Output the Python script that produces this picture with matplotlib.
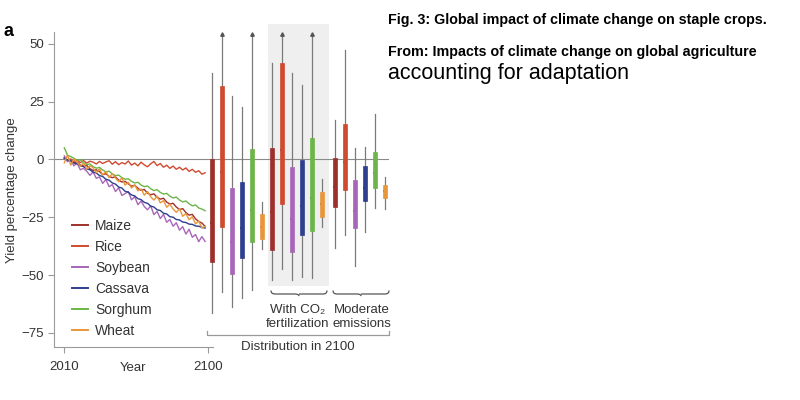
import numpy as np
import matplotlib.pyplot as plt
from matplotlib.path import Path
from matplotlib.patches import PathPatch, Rectangle

plt.rcParams['font.family'] = ['Liberation Sans', 'DejaVu Sans']

# ---- data ----
crops = ["Maize", "Rice", "Soybean", "Cassava", "Sorghum", "Wheat"]
colors = ["#9e302c", "#cf4a2f", "#a866b8", "#2d3f8e", "#6cb548", "#e8963a"]

years = list(range(2010, 2099, 2))

maize = [0.5, -0.2, -0.6, -1.4, -1.1, -2.5, -2.9, -2.6, -4.0, -4.8, -4.5, -5.3, -6.6, -6.2, -7.4,
         -7.9, -7.6, -9.0, -9.8, -9.5, -10.6, -11.6, -11.2, -12.5, -13.4, -13.0, -14.6, -15.3,
         -14.9, -16.4, -17.2, -16.8, -18.5, -19.3, -19.0, -20.6, -21.7, -21.3, -23.0, -24.1,
         -23.8, -25.7, -26.9, -27.5, -29.0]
rice = [0.8, -0.4, 0.2, -0.9, -0.2, -1.4, -0.5, -1.6, -0.8, -1.2, -2.0, -0.9, -1.8, -1.1, -0.6,
        -2.1, -1.0, -2.3, -1.4, -2.0, -0.7, -2.5, -1.6, -2.8, -1.2, -2.4, -3.2, -1.9, -0.9, -2.7,
        -1.8, -3.4, -2.5, -3.9, -2.9, -4.3, -3.4, -4.6, -3.7, -5.2, -4.3, -5.6, -4.9, -6.4, -5.8]
soybean = [1.5, -1.0, -0.4, -2.8, -1.6, -4.5, -3.9, -5.1, -6.9, -5.4, -8.2, -7.6, -10.4, -8.7,
           -11.8, -10.9, -13.9, -12.3, -15.6, -14.8, -13.9, -17.5, -16.1, -19.6, -18.0, -20.4,
           -21.8, -20.1, -23.9, -22.5, -25.6, -23.8, -27.2, -26.0, -28.9, -27.4, -30.6, -29.1,
           -32.3, -30.2, -33.7, -32.5, -35.6, -33.4, -35.5]
cassava = [0.5, -0.3, -0.6, -1.6, -1.9, -2.8, -3.1, -4.1, -4.5, -5.5, -5.9, -7.0, -7.4, -8.6,
           -9.0, -10.2, -10.7, -12.0, -12.4, -13.8, -14.2, -15.4, -15.8, -17.0, -17.4, -18.6,
           -19.0, -20.2, -20.6, -21.8, -22.1, -23.3, -23.6, -24.8, -25.0, -26.0, -26.2, -27.1,
           -27.3, -28.0, -28.1, -28.8, -28.9, -29.4, -29.7]
sorghum = [5.0, 1.8, 1.2, 0.5, -0.4, -0.2, -1.5, -2.2, -2.0, -3.1, -3.8, -3.5, -4.6, -5.4, -5.1,
           -6.3, -7.0, -6.8, -7.9, -8.6, -8.4, -9.5, -10.2, -9.9, -11.1, -11.8, -11.5, -12.7,
           -13.5, -13.1, -14.3, -15.0, -14.7, -15.9, -16.7, -16.3, -17.6, -18.4, -18.0, -19.2,
           -20.1, -19.7, -21.0, -21.5, -22.2]
wheat = [-1.5, 2.0, -2.5, 0.2, -1.2, -3.0, -1.6, -4.2, -2.8, -3.6, -5.8, -4.1, -6.7, -5.3, -7.9,
         -6.2, -8.1, -9.6, -8.0, -11.1, -9.9, -12.4, -11.0, -13.6, -12.8, -15.5, -13.9, -16.2,
         -17.6, -15.9, -18.8, -17.8, -20.7, -19.4, -21.5, -22.9, -21.3, -24.6, -23.4, -26.1,
         -24.8, -27.9, -26.6, -29.7, -28.9]
series = [maize, rice, soybean, cassava, sorghum, wheat]

# distribution in 2100: [whislo, q1, med, q3, whishi] per crop
dist_base = [[-66.6, -44.3, -27.7, 0.0, 37.2],
             [-57.3, -29.1, -5.6, 31.7, 54.0],
             [-64.0, -49.6, -35.6, -12.5, 27.4],
             [-59.9, -42.6, -29.8, -9.9, 22.5],
             [-56.5, -35.9, -21.9, 4.3, 54.0],
             [-38.7, -34.5, -29.1, -23.7, -18.3]]
dist_co2 = [[-52.2, -39.2, -22.8, 5.0, 41.8],
            [-47.6, -19.5, 4.0, 41.5, 54.0],
            [-52.2, -40.0, -26.0, -3.2, 37.2],
            [-50.8, -32.7, -20.2, -0.3, 32.1],
            [-51.5, -31.0, -16.9, 9.4, 54.0],
            [-29.1, -24.8, -19.5, -14.0, -8.7]]
dist_moderate = [[-38.5, -20.8, -11.8, 0.7, 17.0],
                 [-32.7, -13.3, -1.0, 15.1, 47.3],
                 [-46.2, -29.6, -22.4, -9.0, 4.8],
                 [-31.3, -17.9, -12.3, -2.9, 5.4],
                 [-21.2, -12.5, -5.8, 3.3, 19.5],
                 [-21.6, -16.9, -13.7, -11.1, -7.5]]
# whiskers that run off the top of the panel (drawn with an arrow head)
clipped = [[False, True, False, False, True, False],
           [False, True, False, False, True, False],
           [False, False, False, False, False, False]]

# ---- figure ----
W, H = 800, 400
fig = plt.figure(figsize=(8, 4), dpi=100)

def px2year(px):
    return 2010 + (px - 64.3) / 1.6

ax_l, ax_r, ax_t, ax_b = 54.3, 389, 31.7, 346.7
ax = fig.add_axes([ax_l / W, 1 - ax_b / H, (ax_r - ax_l) / W, (ax_b - ax_t) / H])
ax.set_xlim(px2year(ax_l), px2year(ax_r))
ax.set_ylim(-81, 55.2)

# shaded CO2 panel (behind everything in the axes)
ax.add_patch(Rectangle((268.3 / W, 1 - 286 / H), 61 / W, 262 / H,
                       transform=fig.transFigure, facecolor="#efefef",
                       edgecolor="none", zorder=0, clip_on=False))

ax.axhline(0, color="#8a8a8a", lw=0.8, zorder=1)

for name, vals, c in zip(crops, series, colors):
    ax.plot(years, vals, color=c, lw=1.0, label=name, zorder=3)

groups = [dist_base, dist_co2, dist_moderate]
group_start_px = [211.7, 272, 335]
for g, (dist, start) in enumerate(zip(groups, group_start_px)):
    stats = []
    pos = []
    for i, d in enumerate(dist):
        stats.append(dict(whislo=d[0], q1=d[1], med=d[2], q3=d[3], whishi=d[4], fliers=[]))
        pos.append(px2year(start + 10 * i))
    bp = ax.bxp(stats, positions=pos, widths=2.4, showcaps=False, patch_artist=True,
                showfliers=False, manage_ticks=False,
                whiskerprops=dict(color="#7a7a7a", lw=0.9),
                medianprops=dict(color="#222222", lw=1.2),
                boxprops=dict(lw=0.5))
    for b, c in zip(bp["boxes"], colors):
        b.set_facecolor(c)
        b.set_edgecolor(c)
        b.set_zorder(3)
    for i, d in enumerate(dist):
        if clipped[g][i]:
            ax.plot(pos[i], d[4], marker="^", ms=2.5, color="#555555", clip_on=False, zorder=4)

# axes styling
for s in ["top", "right"]:
    ax.spines[s].set_visible(False)
ax.spines["left"].set_color("#9a9a9a")
ax.spines["bottom"].set_color("#9a9a9a")
ax.spines["bottom"].set_bounds(px2year(ax_l), px2year(213))
ax.set_yticks([50, 25, 0, -25, -50, -75])
ax.set_xticks([2010, 2100])
ax.tick_params(colors="#9a9a9a", labelcolor="#333333", labelsize=9.5, length=4, width=0.8)
ax.tick_params(axis="x", pad=6)
fig.text(12 / W, 1 - 190 / H, "Yield percentage change", rotation=90, ha="center",
         va="center", fontsize=9.5, color="#333333")
fig.text(133 / W, 1 - 368 / H, "Year", ha="center", va="center", fontsize=9.5, color="#333333")

leg = ax.legend(loc="upper left", bbox_to_anchor=(72 / W, 1 - 219 / H),
                bbox_transform=fig.transFigure, frameon=False, fontsize=10,
                handlelength=1.15, handletextpad=0.5, labelspacing=0.5,
                borderpad=0, borderaxespad=0)
for t in leg.get_texts():
    t.set_color("#333333")
for h in leg.get_lines():
    h.set_linewidth(1.4)

# brackets and braces
def brace(x0, x1, y, h):
    xm = (x0 + x1) / 2
    verts = [(x0, y - h), (x0, y), (x0 + 4, y), (xm - 4, y), (xm, y),
             (xm, y + h * 0.6),
             (xm, y), (xm + 4, y), (x1 - 4, y), (x1, y), (x1, y - h)]
    codes = [Path.MOVETO, Path.CURVE3, Path.CURVE3, Path.LINETO, Path.CURVE3, Path.CURVE3,
             Path.MOVETO, Path.CURVE3, Path.LINETO, Path.CURVE3, Path.CURVE3]
    v = [(vx / W, 1 - vy / H) for vx, vy in verts]
    fig.patches.append(PathPatch(Path(v, codes), transform=fig.transFigure, fill=False,
                                 edgecolor="#555555", lw=0.9))

brace(271, 327, 294, 3.5)
brace(333, 389, 294, 3.5)

fig.add_artist(plt.Line2D([207.3 / W, 207.3 / W, 389 / W, 389 / W],
                          [1 - 331 / H, 1 - 335 / H, 1 - 335 / H, 1 - 331 / H],
                          color="#9a9a9a", lw=0.9))
fig.text(298 / W, 1 - 346.7 / H, "Distribution in 2100", ha="center", va="center",
         fontsize=9.5, color="#333333")
fig.text(298 / W, 1 - 317 / H, "With CO\u2082\nfertilization", ha="center", va="center",
         fontsize=9.5, color="#333333", linespacing=1.15)
fig.text(362 / W, 1 - 317 / H, "Moderate\nemissions", ha="center", va="center",
         fontsize=9.5, color="#333333", linespacing=1.15)

fig.text(3 / W, 1 - 31 / H, "a", fontsize=13, fontweight="bold", va="center")

fig.text(388 / W, 1 - 20 / H, "Fig. 3: Global impact of climate change on staple crops.",
         fontsize=10.3, fontweight="bold", va="center")
fig.text(388 / W, 1 - 52 / H, "From: Impacts of climate change on global agriculture",
         fontsize=10.3, fontweight="bold", va="center")
fig.text(388 / W, 1 - 73 / H, "accounting for adaptation", fontsize=15.5, va="center")

fig.savefig("out.png", dpi=100)
